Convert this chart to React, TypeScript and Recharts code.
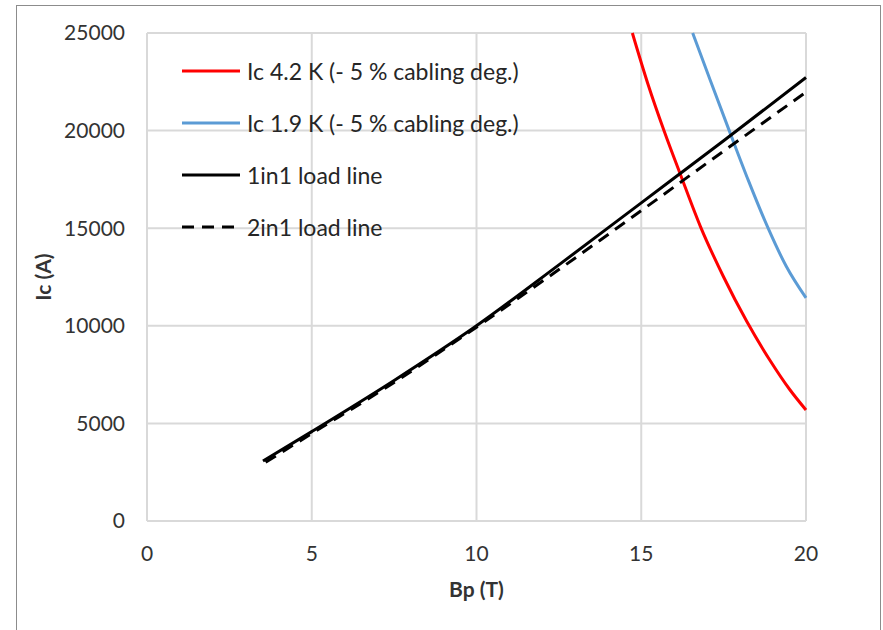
import React from "react";
import { LineChart, Line, XAxis, YAxis, CartesianGrid } from "recharts";

// Bp (T) values and Ic (A) values for each series
const bIc42 = [14.73, 15.2, 15.7, 16.2, 16.8, 17.5, 18.2, 18.9, 19.5, 20];
const ic42 = [25000, 22400, 19950, 17700, 15070, 12500, 10230, 8250, 6750, 5690];

const bIc19 = [16.56, 17.1, 17.67, 18.25, 18.85, 19.4, 20];
const ic19 = [25000, 22550, 20000, 17450, 15000, 13050, 11430];

const bLoad1 = [3.52, 5, 7.5, 10, 12.5, 15, 17.5, 20];
const load1 = [3070, 4580, 7200, 10000, 13120, 16300, 19480, 22720];

const bLoad2 = [3.6, 5, 7.5, 10, 12.5, 15, 17.5, 20];
const load2 = [3010, 4480, 7100, 9930, 12880, 15900, 18950, 21970];

const xTicks = [0, 5, 10, 15, 20];
const yTicks = [0, 5000, 10000, 15000, 20000, 25000];

const seriesNames = [
  "Ic 4.2 K (- 5 % cabling deg.)",
  "Ic 1.9 K (- 5 % cabling deg.)",
  "1in1 load line",
  "2in1 load line",
];
const seriesColors = ["#ff0000", "#5b9bd5", "#000000", "#000000"];
const seriesDash = [undefined, undefined, undefined, "12 8"];

const toData = (xs: number[], ys: number[]) => xs.map((x, i) => ({ b: x, ic: ys[i] }));

const FONT = "Lato, 'Open Sans', sans-serif";

const LegendBox = () => (
  <div style={{ position: "absolute", left: 182, top: 45, fontFamily: FONT }}>
    {seriesNames.map((name, i) => (
      <div key={i} style={{ display: "flex", alignItems: "center", height: 52 }}>
        <svg width={58} height={10} style={{ display: "block" }}>
          <line x1={0} y1={5} x2={58} y2={5} stroke={seriesColors[i]} strokeWidth={3} strokeDasharray={seriesDash[i]} />
        </svg>
        <span style={{ marginLeft: 7, fontSize: 23, color: "#262626", whiteSpace: "nowrap" }}>{name}</span>
      </div>
    ))}
  </div>
);

export default function App() {
  return (
    <div style={{ position: "absolute", left: 0, top: 0, width: 883, height: 630, background: "#fff", overflow: "hidden" }}>
      <div style={{ position: "absolute", left: 16, top: 5, width: 865, height: 660, border: "1px solid #8c8c8c", boxSizing: "border-box" }} />
      <div style={{ position: "absolute", left: 0, top: 0 }}>
        <LineChart width={883} height={630} margin={{ top: 33, right: 77, bottom: 0, left: 0 }}>
          <CartesianGrid stroke="#d9d9d9" strokeWidth={2} vertical={true} horizontal={true} />
          <XAxis
            type="number"
            dataKey="b"
            domain={[0, 20]}
            ticks={xTicks}
            height={109}
            axisLine={{ stroke: "#d9d9d9", strokeWidth: 2 }}
            tickLine={false}
            tickSize={0}
            tickMargin={25}
            tick={{ fill: "#333", fontSize: 21, fontFamily: FONT }}
            label={{
              content: (p: any) => {
                const vb = p.viewBox || {};
                return (
                  <text x={vb.x + vb.width / 2} y={vb.y + 76} textAnchor="middle" fontFamily={FONT} fontSize={21} fontWeight="bold" fill="#333">
                    Bp (T)
                  </text>
                );
              },
            }}
          />
          <YAxis
            type="number"
            domain={[0, 25000]}
            ticks={yTicks}
            width={147}
            axisLine={{ stroke: "#d9d9d9", strokeWidth: 2 }}
            tickLine={false}
            tickSize={0}
            tickMargin={22}
            tick={{ fill: "#333", fontSize: 21, fontFamily: FONT }}
            label={{
              content: (p: any) => {
                const vb = p.viewBox || {};
                const cx = vb.x + 42;
                const cy = vb.y + vb.height / 2;
                return (
                  <text x={cx} y={cy} transform={`rotate(-90 ${cx} ${cy})`} textAnchor="middle" dominantBaseline="central" fontFamily={FONT} fontSize={21} fontWeight="bold" fill="#333">
                    Ic (A)
                  </text>
                );
              },
            }}
          />
          <Line data={toData(bIc42, ic42)} dataKey="ic" name={seriesNames[0]} type="monotone" stroke={seriesColors[0]} strokeWidth={3} dot={false} isAnimationActive={false} />
          <Line data={toData(bIc19, ic19)} dataKey="ic" name={seriesNames[1]} type="monotone" stroke={seriesColors[1]} strokeWidth={3} dot={false} isAnimationActive={false} />
          <Line data={toData(bLoad1, load1)} dataKey="ic" name={seriesNames[2]} type="monotone" stroke={seriesColors[2]} strokeWidth={3} dot={false} isAnimationActive={false} />
          <Line data={toData(bLoad2, load2)} dataKey="ic" name={seriesNames[3]} type="monotone" stroke={seriesColors[3]} strokeWidth={3} strokeDasharray={seriesDash[3]} dot={false} isAnimationActive={false} />
        </LineChart>
      </div>
      <LegendBox />
    </div>
  );
}
